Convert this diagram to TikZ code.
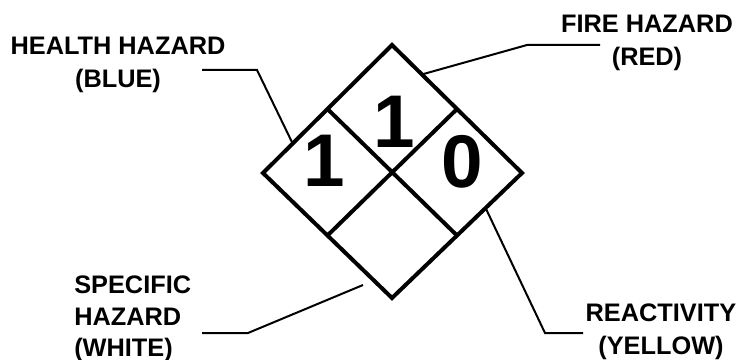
\documentclass[tikz,border=0pt]{standalone}
\usepackage{fontspec}
\setmainfont{Liberation Sans}
\usetikzlibrary{calc}

\begin{document}
\begin{tikzpicture}[x=0.75pt, y=-0.75pt,
    hazlabel/.style={font=\fontsize{19}{24.5}\selectfont\bfseries, align=center, inner sep=0pt},
    rating/.style={font=\fontsize{56}{56}\selectfont\bfseries, inner sep=0pt},
    frame/.style={line width=3pt, line join=miter},
    leader/.style={line width=1.5pt}]
    \useasboundingbox (0,0) rectangle (739,360);

    % diamond
    \coordinate (top) at (392,45);
    \coordinate (right) at (522,173);
    \coordinate (bottom) at (392,298);
    \coordinate (left) at (263,173);
    \draw[frame] (top) -- (right) -- (bottom) -- (left) -- cycle;
    \draw[frame] ($(top)!0.5!(left)$) -- ($(right)!0.5!(bottom)$);
    \draw[frame] ($(top)!0.5!(right)$) -- ($(left)!0.5!(bottom)$);

    \node[rating] (firenum) at (394,122) {1};
    \node[rating] (healthnum) at (324,161) {1};
    \node[rating] (reactnum) at (462,162) {0};

    % labels
    \node[hazlabel] (health) at (118,65) {HEALTH HAZARD\\(BLUE)};
    \node[hazlabel] (fire) at (647,43) {FIRE HAZARD\\(RED)};
    \node[hazlabel, align=left, anchor=west, font=\fontsize{19}{23.5}\selectfont\bfseries] (specific) at (74,319) {SPECIFIC\\HAZARD\\(WHITE)};
    \node[hazlabel] (react) at (661,332) {REACTIVITY\\(YELLOW)};

    % leaders
    \coordinate (healthend) at (202,70);
    \coordinate (fireend) at (600,45);
    \coordinate (specificend) at (202,333);
    \coordinate (reactend) at (583,333);
    \coordinate (specifictip) at (363,285);
    \draw[leader] (healthend) -- (257,70) -- ($(top)!0.77!(left)$);
    \draw[leader] (fireend) -- (527,45) -- ($(top)!0.23!(right)$);
    \draw[leader] (specificend) -- (248,333) -- (specifictip);
    \draw[leader] (reactend) -- (545,333) -- ($(right)!0.28!(bottom)$);
\end{tikzpicture}
\end{document}
